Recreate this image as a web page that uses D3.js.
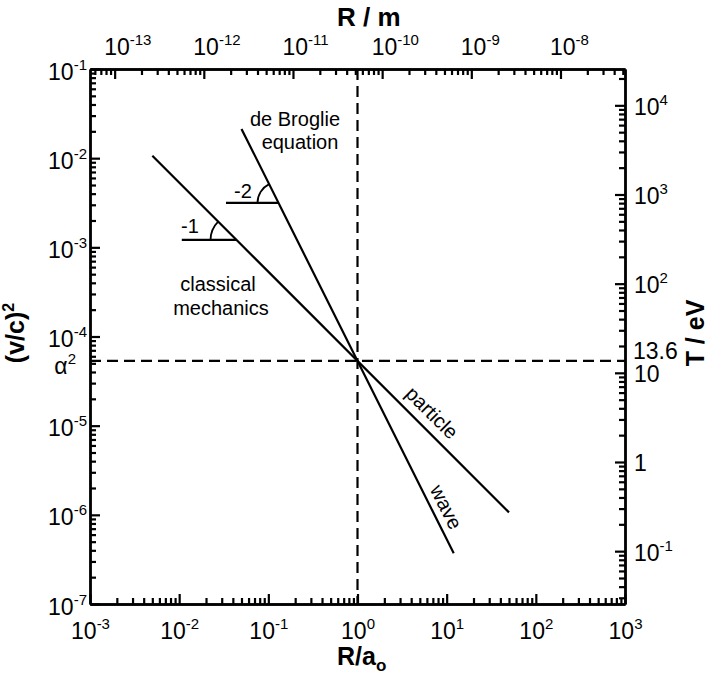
<!DOCTYPE html>
<html><head><meta charset="utf-8">
<script src="https://cdn.jsdelivr.net/npm/d3@7"></script>
<style>body{margin:0;background:#fff} svg{display:block}</style>
</head><body>
<svg id="chart" width="710" height="678"></svg>
<script>
// ---------- data ----------
const xDomain = [1e-3, 1e3];            // R / a_o
const yDomain = [1e-7, 1e-1];           // (v/c)^2
const bohrRadius = 5.29177e-11;         // m  (top axis: R / m)
const halfRestEnergy = 255500;          // eV (right axis: T / eV)
const alpha2 = 5.325e-5;                // fine-structure constant squared
const xMajorExps = [-3, -2, -1, 0, 1, 2, 3];
const yMajorExps = [-1, -2, -3, -4, -5, -6, -7];
const topMajorExps = [-13, -12, -11, -10, -9, -8];
const rightMajorValues = [1e4, 1e3, 1e2, 1e1, 1e0, 1e-1];
const rightMajorLabels = [["10","4"], ["10","3"], ["10","2"], ["10",""], ["1",""], ["10","-1"]];
const classicalLine = [[0.005, 1.065e-2], [50, 1.065e-6]];   // slope -1
const deBroglieLine = [[0.05, 2.13e-2], [12, 3.7e-7]];       // slope -2
const slopeMarks = [
  {label: "-1", y: 1.21e-3, x0: 0.0107, x1: 0.044},
  {label: "-2", y: 3.15e-3, x0: 0.0335, x1: 0.13}
];
const lineLabels = [
  {text: "particle", line: "classical", at: 5.1},
  {text: "wave", line: "deBroglie", at: 7.15}
];

// ---------- layout ----------
const L = 90, R = 625, T = 69, B = 604;
const FONT = "'Liberation Sans', Arial, Helvetica, sans-serif";
const svg = d3.select("#chart").style("font-family", FONT);

const x = d3.scaleLog().domain(xDomain).range([L, R]);
const y = d3.scaleLog().domain(yDomain).range([B, T]);
const xTop = d3.scaleLog().domain(xDomain.map(d => d * bohrRadius)).range([L, R]);
const yRight = d3.scaleLog().domain(yDomain.map(d => d * halfRestEnergy)).range([B, T]);

const isMajor = v => Math.abs(Math.log10(v) - Math.round(Math.log10(v))) < 1e-9;
const minorOf = scale => scale.ticks().filter(v => !isMajor(v));

const LBL = 23, SUP = 15;

function styleAxis(g) {
  g.attr("font-family", FONT).attr("font-size", null);
  g.selectAll(".domain").attr("stroke", "#000").attr("stroke-width", 2.4);
  g.selectAll(".tick line").attr("stroke", "#000").attr("stroke-width", 2.2);
}
function addSup(textSel, expOf) {
  textSel.each(function(d, i) {
    const e = expOf(d, i);
    if (e !== "") {
      d3.select(this).append("tspan").attr("font-size", SUP).attr("dy", -10).text(e);
    }
  });
}
// Axis whose ticks point into the plot (generator chosen so positive sizes point inward)
function inwardAxis(gen, scale, pos, majorVals, fmt) {
  const gMin = svg.append("g").attr("transform", pos)
    .call(gen(scale).tickValues(minorOf(scale)).tickSize(6).tickSizeOuter(0).tickFormat(""));
  styleAxis(gMin);
  gMin.selectAll(".tick text").remove();
  const gMaj = svg.append("g").attr("transform", pos)
    .call(gen(scale).tickValues(majorVals).tickSize(10).tickSizeOuter(0).tickFormat(fmt));
  styleAxis(gMaj);
  return gMaj.selectAll(".tick text").attr("dy", null).attr("font-size", LBL).attr("fill", "#000");
}

// bottom axis
{
  const txt = inwardAxis(d3.axisTop, x, `translate(0,${B})`, xMajorExps.map(e => Math.pow(10, e)), () => "10")
    .attr("x", 0).attr("y", 35).attr("text-anchor", "middle");
  addSup(txt, (d, i) => String(xMajorExps[i]));
}
// top axis
{
  const txt = inwardAxis(d3.axisBottom, xTop, `translate(0,${T})`, topMajorExps.map(e => Math.pow(10, e)), () => "10")
    .attr("x", -11).attr("y", -14).attr("text-anchor", "start");
  addSup(txt, (d, i) => String(topMajorExps[i]));
}
// left axis
{
  const txt = inwardAxis(d3.axisRight, y, `translate(${L},0)`, yMajorExps.map(e => Math.pow(10, e)), () => "10")
    .attr("x", -3).attr("y", 10).attr("text-anchor", "end");
  addSup(txt, (d, i) => String(yMajorExps[i]));
  const a = svg.append("text").attr("x", L - 14).attr("y", y(alpha2) + 13)
    .attr("font-size", LBL).attr("fill", "#000").attr("text-anchor", "end").text("\u03B1");
  a.append("tspan").attr("font-size", SUP).attr("dy", -10).text("2");
}
// right axis
{
  const txt = inwardAxis(d3.axisLeft, yRight, `translate(${R},0)`, rightMajorValues, (d, i) => rightMajorLabels[i][0])
    .attr("x", 9).attr("y", 9).attr("text-anchor", "start");
  addSup(txt, (d, i) => rightMajorLabels[i][1]);
  svg.append("text").attr("x", R + 8).attr("y", yRight(alpha2 * halfRestEnergy) - 2)
    .attr("font-size", LBL).attr("fill", "#000").attr("text-anchor", "start").text("13.6");
}

// ---------- dashed reference lines ----------
svg.append("line").attr("x1", x(1)).attr("x2", x(1)).attr("y1", T).attr("y2", B)
  .attr("stroke", "#000").attr("stroke-width", 2.2).attr("stroke-dasharray", "11,6");
svg.append("line").attr("x1", L).attr("x2", R).attr("y1", y(alpha2)).attr("y2", y(alpha2))
  .attr("stroke", "#000").attr("stroke-width", 2.2).attr("stroke-dasharray", "11,6");

// ---------- lines ----------
const lines = {classical: classicalLine, deBroglie: deBroglieLine};
const lineGen = d3.line().x(d => x(d[0])).y(d => y(d[1]));
Object.values(lines).forEach(pts => {
  svg.append("path").attr("d", lineGen(pts)).attr("fill", "none")
    .attr("stroke", "#000").attr("stroke-width", 2.2);
});

// slope markers
const arcR = [26, 21];
const markLines = [classicalLine, deBroglieLine];
slopeMarks.forEach((m, i) => {
  const cx = x(m.x1), cy = y(m.y);
  svg.append("line").attr("x1", x(m.x0)).attr("x2", cx).attr("y1", cy).attr("y2", cy)
    .attr("stroke", "#000").attr("stroke-width", 2.2);
  const top = markLines[i][0];
  let ang = Math.atan2(y(top[1]) - cy, x(top[0]) - cx);
  if (ang < 0) ang += 2 * Math.PI;
  const p = d3.path();
  p.arc(cx, cy, arcR[i], Math.PI, ang, false);
  svg.append("path").attr("d", p.toString()).attr("fill", "none")
    .attr("stroke", "#000").attr("stroke-width", 1.8);
});
svg.append("text").attr("x", 190).attr("y", 233).attr("font-size", 20).attr("text-anchor", "middle").text(slopeMarks[0].label);
svg.append("text").attr("x", 243).attr("y", 198).attr("font-size", 20).attr("text-anchor", "middle").text(slopeMarks[1].label);

// labels along lines
function alongLine(pts, xv) {
  const [p0, p1] = pts;
  const t = (Math.log10(xv) - Math.log10(p0[0])) / (Math.log10(p1[0]) - Math.log10(p0[0]));
  const ly = Math.pow(10, Math.log10(p0[1]) + t * (Math.log10(p1[1]) - Math.log10(p0[1])));
  const ang = Math.atan2(y(p1[1]) - y(p0[1]), x(p1[0]) - x(p0[0])) * 180 / Math.PI;
  return {px: x(xv), py: y(ly), ang};
}
const labelOffsets = {particle: -9, wave: -7};
lineLabels.forEach(l => {
  const pos = alongLine(lines[l.line], l.at);
  svg.append("text").attr("transform", `translate(${pos.px},${pos.py}) rotate(${pos.ang})`)
    .attr("y", labelOffsets[l.text]).attr("font-size", 20).attr("text-anchor", "middle").text(l.text);
});

// free annotations
[["de Broglie", 295, 126], ["equation", 300, 149], ["classical", 218, 291], ["mechanics", 221, 315]]
  .forEach(([t, px, py]) => svg.append("text").attr("x", px).attr("y", py)
    .attr("font-size", 20).attr("text-anchor", "middle").text(t));

// ---------- axis titles ----------
svg.append("text").attr("x", 337).attr("y", 26).attr("font-size", 26).attr("font-weight", "bold").text("R / m");
const bt = svg.append("text").attr("x", 337).attr("y", 665).attr("font-size", 25).attr("font-weight", "bold").text("R/a");
bt.append("tspan").attr("font-size", 17).attr("dy", 6).text("o");
const lt = svg.append("text").attr("transform", "translate(24,333) rotate(-90)")
  .attr("font-size", 25).attr("font-weight", "bold").attr("text-anchor", "middle").text("(v/c)");
lt.append("tspan").attr("font-size", 16).attr("dy", -10).text("2");
svg.append("text").attr("transform", "translate(704,333) rotate(-90)")
  .attr("font-size", 25).attr("font-weight", "bold").attr("text-anchor", "middle").text("T / eV");
</script>
</body></html>
